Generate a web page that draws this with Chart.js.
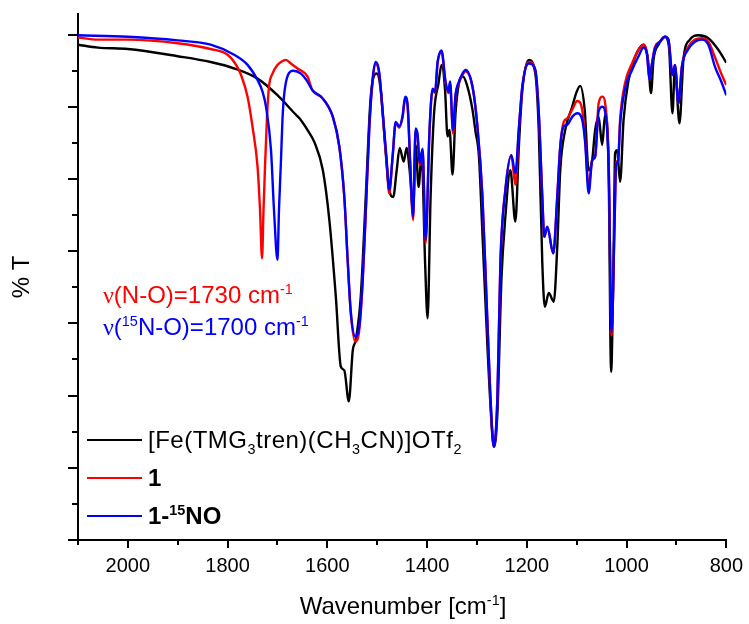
<!DOCTYPE html>
<html>
<head>
<meta charset="utf-8">
<script src="https://cdn.jsdelivr.net/npm/chart.js@4.4.0/dist/chart.umd.min.js"></script>
<style>
  body { margin: 0; background: #fff; }
  #wrap { position: relative; width: 749px; height: 624px; font-family: 'Liberation Sans', Arial, sans-serif; color: #000; }
  #wrap canvas { position: absolute; left: 0; top: 0; }
  .lbl { position: absolute; white-space: nowrap; line-height: 28px; font-size: 24px; }
  .wide { letter-spacing: 0.5px; }
  .nu { font-family: 'Liberation Serif', 'Times New Roman', serif; }
  .lbl sup, .lbl sub { font-size: 60%; line-height: 0; }
  .key { position: absolute; left: 87px; width: 55px; height: 2px; }
</style>
</head>
<body>
<div id="wrap">
  <canvas id="chart-ir"></canvas>

  <div class="key" style="top:439px; background:#000"></div>
  <div class="lbl wide" style="left:148px; top:426px">[Fe(TMG<sub>3</sub>tren)(CH<sub>3</sub>CN)]OTf<sub>2</sub></div>
  <div class="key" style="top:477px; background:#f00"></div>
  <div class="lbl" style="left:148px; top:464px; font-weight:bold">1</div>
  <div class="key" style="top:515px; background:#00f"></div>
  <div class="lbl" style="left:148px; top:502px; font-weight:bold">1-<sup>15</sup>NO</div>

  <div class="lbl" style="left:103px; top:281px; color:#f00"><span class="nu">ν</span>(N-O)=1730 cm<sup>-1</sup></div>
  <div class="lbl" style="left:103px; top:313px; color:#00f"><span class="nu">ν</span>(<sup>15</sup>N-O)=1700 cm<sup>-1</sup></div>

  <div class="lbl" style="left:78px; width:650px; text-align:center; top:592px">Wavenumber [cm<sup>-1</sup>]</div>
</div>

<script>
// axis ticks
const xTicks = [2000, 1800, 1600, 1400, 1200, 1000, 800];
const xMinor = [2100, 1900, 1700, 1500, 1300, 1100, 900];
const yTicks = [0, 10, 20, 30, 40, 50, 60, 70];
const yMinor = [5, 15, 25, 35, 45, 55, 65];

// [Fe(TMG3tren)(CH3CN)]OTf2
const blackWn = [2100,2060,2000,1900,1834,1786,1740,1700,1666,1656,1640,1626,1609,1596,1583,1573,1566,1557,1549,1543,
  1533,1523,1513,1501,1493,1484,1476,1468,1461,1455,1447,1441,1435,1428,1423,1417,1411,1404,1399,1393,
  1386,1377,1371,1364,1359,1355,1349,1343,1336,1328,1320,1309,1303,1296,1289,1279,1269,1266,1259,1251,
  1243,1233,1223,1216,1209,1196,1183,1176,1169,1164,1156,1146,1139,1133,1123,1109,1101,1093,1084,1076,
  1069,1063,1056,1049,1043,1036,1031,1026,1023,1019,1013,1006,996,983,966,957,951,946,936,923,
  915,908,903,894,886,873,856,836,816,800];
const blackT = [68.6,68.2,68.0,67.0,66.2,65.3,63.9,61.6,59.1,58.4,56.8,55.1,51.2,44.3,33.7,24.0,23.5,19.2,26.3,27.7,
  33.7,47.5,61.4,64.6,62.3,54.5,48.5,47.5,51.2,54.3,52.4,54.3,51.2,45.7,54.7,48.9,53.6,38.4,30.7,47.5,
  59.1,63.3,65.8,62.3,55.9,56.8,50.6,59.1,63.3,64.2,63.0,59.6,56.6,53.1,42.4,26.8,14.3,12.9,17.6,36.0,
  44.8,51.2,44.1,54.5,62.3,66.5,64.6,56.6,38.4,32.3,34.2,33.0,40.6,51.2,56.8,60.0,61.9,62.9,59.6,51.2,
  52.6,56.8,58.6,54.7,58.9,51.2,23.3,39.8,53.6,54.0,49.6,58.2,63.7,66.9,68.6,66.5,61.9,66.5,68.6,69.7,
  68.3,59.1,65.6,57.7,66.5,69.3,69.9,69.5,67.9,66.1];

// 1
const redWn = [2100,2060,2000,1900,1834,1800,1783,1773,1760,1750,1740,1735,1731,1728,1725,1721,1717,1710,1700,1693,
  1683,1673,1660,1640,1630,1610,1589,1576,1566,1559,1553,1544,1536,1529,1523,1516,1509,1503,1496,1489,
  1481,1476,1469,1463,1456,1449,1444,1439,1434,1428,1423,1419,1415,1409,1403,1395,1389,1384,1379,1371,
  1363,1357,1354,1348,1343,1336,1329,1323,1309,1299,1289,1281,1273,1266,1259,1253,1243,1231,1223,1216,
  1209,1196,1183,1176,1169,1165,1159,1147,1139,1133,1126,1119,1109,1099,1089,1083,1076,1069,1063,1056,
  1048,1043,1036,1030,1024,1021,1017,1013,1003,989,976,966,959,954,949,943,933,923,916,908,
  903,896,889,876,863,849,836,823,809,800];
const redT = [69.6,69.3,69.3,68.8,68.0,67.2,65.8,64.4,61.4,57.2,51.7,45.7,39.0,45.7,51.7,58.6,62.8,64.6,65.8,66.2,
  66.5,66.0,65.3,64.2,62.3,61.2,58.6,54.5,47.5,38.4,31.4,27.5,29.1,36.0,45.3,56.8,63.7,65.9,64.6,59.1,
  52.2,48.0,53.1,57.7,57.1,58.6,61.2,60.0,52.2,44.3,56.8,55.9,51.9,54.0,41.1,56.8,62.3,61.9,66.0,67.6,
  63.3,61.9,63.3,56.3,61.4,63.3,64.4,64.9,62.8,57.2,47.5,33.7,19.8,12.9,19.8,38.4,48.5,53.3,49.2,56.8,
  62.8,66.2,65.1,59.1,47.5,42.0,43.4,39.7,47.5,54.5,57.9,58.4,59.6,60.8,59.6,55.4,48.9,52.6,53.1,60.5,
  61.4,60.5,52.6,28.3,44.3,52.2,52.6,58.2,63.3,66.0,67.9,68.6,67.4,63.7,66.0,68.3,69.0,69.7,69.3,64.4,
  65.8,60.5,65.6,68.3,69.3,69.5,69.0,66.9,64.4,63.0];

// 1-15NO
const blueWn = [2100,2000,1900,1834,1787,1760,1740,1730,1723,1713,1707,1700,1697,1693,1690,1687,1679,1668,1653,1640,
  1630,1610,1589,1576,1566,1559,1553,1544,1536,1529,1523,1516,1509,1503,1496,1489,1481,1476,1469,1463,
  1456,1449,1444,1439,1434,1428,1423,1419,1415,1409,1403,1395,1389,1384,1379,1371,1363,1357,1354,1348,
  1343,1336,1329,1323,1309,1299,1289,1281,1273,1266,1259,1253,1243,1231,1223,1216,1209,1196,1183,1176,
  1169,1165,1159,1147,1139,1133,1126,1119,1109,1099,1089,1083,1076,1069,1063,1056,1048,1043,1036,1030,
  1024,1021,1017,1013,1003,989,976,966,959,954,949,943,933,923,916,908,903,896,889,876,
  863,849,836,823,809,800];
const blueT = [69.9,69.7,69.2,68.6,67.2,65.8,63.7,62.1,60.0,54.0,45.7,38.8,45.7,52.6,58.2,61.4,64.4,65.0,64.6,63.5,
  62.3,61.2,58.6,54.5,47.5,38.4,31.6,28.2,29.6,36.3,45.5,57.0,64.0,66.2,64.8,59.3,52.5,48.5,53.3,57.9,
  57.3,58.8,61.4,60.2,52.5,44.8,57.0,56.1,52.2,54.2,41.6,57.0,62.5,62.1,66.2,67.8,63.5,62.1,63.5,56.8,
  61.6,63.5,64.6,65.1,62.8,57.2,47.5,33.7,19.8,12.9,19.8,38.4,48.5,53.3,50.8,57.0,62.8,66.0,65.1,59.1,
  47.5,42.0,43.4,39.7,47.5,54.5,57.3,57.5,58.6,59.1,58.2,55.0,48.0,52.6,53.1,59.4,60.0,59.3,52.0,28.8,
  44.0,52.0,52.4,57.5,62.5,65.1,67.0,68.2,67.2,63.7,66.0,68.1,69.0,69.7,69.3,64.4,65.8,60.5,65.6,68.0,
  69.0,69.3,68.6,65.6,63.3,61.6];

const toPoints = (wn, t) => wn.map((w, i) => ({ x: w, y: t[i] }));

const fontFamily = "'Liberation Sans', Arial, sans-serif";

// short unlabelled ticks between the labelled ones
const minorTicks = {
  id: 'minorTicks',
  afterDraw(chart) {
    const { ctx, scales: { x, y } } = chart;
    ctx.save();
    ctx.strokeStyle = '#000';
    ctx.lineWidth = 2;
    ctx.beginPath();
    xMinor.forEach(v => {
      const px = Math.round(x.getPixelForValue(v));
      ctx.moveTo(px, y.bottom);
      ctx.lineTo(px, y.bottom + 5);
    });
    yMinor.forEach(v => {
      const py = Math.round(y.getPixelForValue(v));
      ctx.moveTo(x.left, py);
      ctx.lineTo(x.left - 6, py);
    });
    ctx.stroke();
    ctx.restore();
  }
};

const lineSet = (label, wn, t, color, order) => ({
  label: label,
  data: toPoints(wn, t),
  borderColor: color,
  borderWidth: 2.4,
  pointRadius: 0,
  fill: false,
  cubicInterpolationMode: 'monotone',
  order: order
});

(() => {
  let ctxIr = document.getElementById('chart-ir').getContext('2d');

  new Chart(ctxIr, {
    type: 'line',
    data: {
      datasets: [
        lineSet('[Fe(TMG3tren)(CH3CN)]OTf2', blackWn, blackT, '#000000', 3),
        lineSet('1', redWn, redT, '#ff0000', 2),
        lineSet('1-15NO', blueWn, blueT, '#0000ff', 1)
      ]
    },
    options: {
      responsive: true,
      maintainAspectRatio: false,
      animation: false,
      layout: { padding: { top: 14, right: 21, left: 0, bottom: 0 } },
      plugins: {
        legend: { display: false },
        tooltip: { enabled: false }
      },
      scales: {
        x: {
          type: 'linear',
          reverse: true,
          min: 800,
          max: 2100,
          afterBuildTicks: s => { s.ticks = xTicks.map(v => ({ value: v })); },
          afterFit: s => { s.height = 84; },
          grid: { display: true, drawOnChartArea: false, drawTicks: true, tickLength: 8, color: '#000', lineWidth: 2 },
          border: { display: true, color: '#000', width: 2 },
          ticks: {
            color: '#000',
            font: { family: fontFamily, size: 20 },
            padding: 6,
            maxRotation: 0,
            autoSkip: false,
            callback: v => String(v)
          }
        },
        y: {
          type: 'linear',
          min: 0,
          max: 72.85,
          afterBuildTicks: s => { s.ticks = yTicks.map(v => ({ value: v })); },
          afterFit: s => { s.width = 78; },
          grid: { display: true, drawOnChartArea: false, drawTicks: true, tickLength: 10, color: '#000', lineWidth: 2 },
          border: { display: true, color: '#000', width: 2 },
          ticks: { display: false },
          title: { display: true, text: '% T', color: '#000', font: { family: fontFamily, size: 24 }, padding: { top: 8, bottom: 0 } }
        }
      }
    },
    plugins: [minorTicks]
  });
})();
</script>
</body>
</html>
